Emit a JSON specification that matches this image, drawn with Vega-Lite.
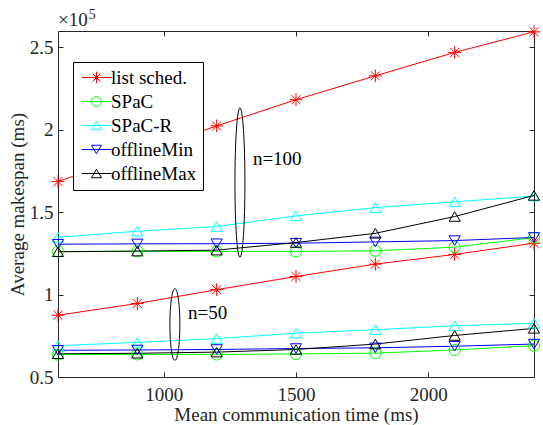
{
  "$schema": "https://vega.github.io/schema/vega-lite/v6.json",
  "width": 476,
  "height": 346,
  "autosize": {"type": "none"},
  "padding": {"left": 58, "top": 31, "right": 9, "bottom": 48},
  "background": "white",
  "config": {
    "font": "Liberation Serif",
    "view": {"stroke": "#262626", "strokeWidth": 1},
    "axis": {"grid": false, "domain": false, "labelFont": "Liberation Serif", "titleFont": "Liberation Serif", "labelColor": "#262626", "titleColor": "#262626", "tickColor": "#262626", "labelFontSize": 19, "titleFontSize": 19, "titleFontWeight": "normal"}
  },
  "datasets": {
    "series": [
      {"t": 600, "n": 100, "series": "list sched.", "ms": 168600},
      {"t": 900, "n": 100, "series": "list sched.", "ms": 185500},
      {"t": 1200, "n": 100, "series": "list sched.", "ms": 202400},
      {"t": 1500, "n": 100, "series": "list sched.", "ms": 218300},
      {"t": 1800, "n": 100, "series": "list sched.", "ms": 232800},
      {"t": 2100, "n": 100, "series": "list sched.", "ms": 247000},
      {"t": 2400, "n": 100, "series": "list sched.", "ms": 259500},
      {"t": 600, "n": 100, "series": "SPaC", "ms": 126200},
      {"t": 900, "n": 100, "series": "SPaC", "ms": 126300},
      {"t": 1200, "n": 100, "series": "SPaC", "ms": 126200},
      {"t": 1500, "n": 100, "series": "SPaC", "ms": 126200},
      {"t": 1800, "n": 100, "series": "SPaC", "ms": 126600},
      {"t": 2100, "n": 100, "series": "SPaC", "ms": 128800},
      {"t": 2400, "n": 100, "series": "SPaC", "ms": 134600},
      {"t": 600, "n": 100, "series": "SPaC-R", "ms": 134800},
      {"t": 900, "n": 100, "series": "SPaC-R", "ms": 138500},
      {"t": 1200, "n": 100, "series": "SPaC-R", "ms": 141300},
      {"t": 1500, "n": 100, "series": "SPaC-R", "ms": 147800},
      {"t": 1800, "n": 100, "series": "SPaC-R", "ms": 152800},
      {"t": 2100, "n": 100, "series": "SPaC-R", "ms": 156300},
      {"t": 2400, "n": 100, "series": "SPaC-R", "ms": 159800},
      {"t": 600, "n": 100, "series": "offlineMin", "ms": 130600},
      {"t": 900, "n": 100, "series": "offlineMin", "ms": 130800},
      {"t": 1200, "n": 100, "series": "offlineMin", "ms": 130900},
      {"t": 1500, "n": 100, "series": "offlineMin", "ms": 131200},
      {"t": 1800, "n": 100, "series": "offlineMin", "ms": 132000},
      {"t": 2100, "n": 100, "series": "offlineMin", "ms": 132800},
      {"t": 2400, "n": 100, "series": "offlineMin", "ms": 134700},
      {"t": 600, "n": 100, "series": "offlineMax", "ms": 126000},
      {"t": 900, "n": 100, "series": "offlineMax", "ms": 126400},
      {"t": 1200, "n": 100, "series": "offlineMax", "ms": 127000},
      {"t": 1500, "n": 100, "series": "offlineMax", "ms": 131600},
      {"t": 1800, "n": 100, "series": "offlineMax", "ms": 137200},
      {"t": 2100, "n": 100, "series": "offlineMax", "ms": 147400},
      {"t": 2400, "n": 100, "series": "offlineMax", "ms": 160200},
      {"t": 600, "n": 50, "series": "list sched.", "ms": 87500},
      {"t": 900, "n": 50, "series": "list sched.", "ms": 94600},
      {"t": 1200, "n": 50, "series": "list sched.", "ms": 103000},
      {"t": 1500, "n": 50, "series": "list sched.", "ms": 111000},
      {"t": 1800, "n": 50, "series": "list sched.", "ms": 118500},
      {"t": 2100, "n": 50, "series": "list sched.", "ms": 124400},
      {"t": 2400, "n": 50, "series": "list sched.", "ms": 131200},
      {"t": 600, "n": 50, "series": "SPaC", "ms": 63600},
      {"t": 900, "n": 50, "series": "SPaC", "ms": 63700},
      {"t": 1200, "n": 50, "series": "SPaC", "ms": 63700},
      {"t": 1500, "n": 50, "series": "SPaC", "ms": 64000},
      {"t": 1800, "n": 50, "series": "SPaC", "ms": 64500},
      {"t": 2100, "n": 50, "series": "SPaC", "ms": 66400},
      {"t": 2400, "n": 50, "series": "SPaC", "ms": 69000},
      {"t": 600, "n": 50, "series": "SPaC-R", "ms": 69000},
      {"t": 900, "n": 50, "series": "SPaC-R", "ms": 71000},
      {"t": 1200, "n": 50, "series": "SPaC-R", "ms": 73300},
      {"t": 1500, "n": 50, "series": "SPaC-R", "ms": 76600},
      {"t": 1800, "n": 50, "series": "SPaC-R", "ms": 78700},
      {"t": 2100, "n": 50, "series": "SPaC-R", "ms": 81100},
      {"t": 2400, "n": 50, "series": "SPaC-R", "ms": 82600},
      {"t": 600, "n": 50, "series": "offlineMin", "ms": 66200},
      {"t": 900, "n": 50, "series": "offlineMin", "ms": 66400},
      {"t": 1200, "n": 50, "series": "offlineMin", "ms": 66700},
      {"t": 1500, "n": 50, "series": "offlineMin", "ms": 67300},
      {"t": 1800, "n": 50, "series": "offlineMin", "ms": 67700},
      {"t": 2100, "n": 50, "series": "offlineMin", "ms": 68700},
      {"t": 2400, "n": 50, "series": "offlineMin", "ms": 70000},
      {"t": 600, "n": 50, "series": "offlineMax", "ms": 64100},
      {"t": 900, "n": 50, "series": "offlineMax", "ms": 64400},
      {"t": 1200, "n": 50, "series": "offlineMax", "ms": 65100},
      {"t": 1500, "n": 50, "series": "offlineMax", "ms": 66700},
      {"t": 1800, "n": 50, "series": "offlineMax", "ms": 70000},
      {"t": 2100, "n": 50, "series": "offlineMax", "ms": 75200},
      {"t": 2400, "n": 50, "series": "offlineMax", "ms": 79500}
    ],
    "ell100": [{"t": 1288, "ms": 168000}],
    "ell50": [{"t": 1042, "ms": 81900}],
    "labels": [
      {"t": 1337, "ms": 182500, "label": "n=100"},
      {"t": 1092, "ms": 88600, "label": "n=50"}
    ],
    "expBase": [{"t": 600, "ms": 266500, "label": "×10"}],
    "expPow": [{"t": 716, "ms": 269700, "label": "5"}]
  },
  "layer": [
    {
      "data": {"name": "series"},
      "mark": {"type": "line", "strokeWidth": 1},
      "encoding": {
        "x": {"field": "t", "type": "quantitative", "scale": {"domain": [600, 2400], "nice": false, "zero": false},
              "axis": {"orient": "bottom", "values": [1000, 1500, 2000], "format": "d", "tickSize": -5, "labelPadding": 13, "title": "Mean communication time (ms)", "titlePadding": 1}},
        "y": {"field": "ms", "type": "quantitative", "scale": {"domain": [50000, 260000], "nice": false, "zero": false},
              "axis": {"orient": "left", "values": [50000, 100000, 150000, 200000, 250000], "labelExpr": "format(datum.value/100000, '~g')", "tickSize": -5, "labelPadding": 10, "title": "Average makespan (ms)", "titlePadding": 2}},
        "color": {"field": "series", "type": "nominal",
                  "scale": {"domain": ["list sched.", "SPaC", "SPaC-R", "offlineMin", "offlineMax"], "range": ["#ff0000", "#00ff00", "#00ffff", "#0000ff", "#000000"]},
                  "legend": {"title": null, "orient": "none", "legendX": 15, "legendY": 31, "padding": 6, "fillColor": "white", "strokeColor": "#000000", "cornerRadius": 0,
                             "labelFont": "Liberation Serif", "labelFontSize": 19, "labelColor": "#000000", "symbolSize": 100, "symbolStrokeWidth": 1, "symbolOpacity": 1, "symbolOffset": 8, "labelOffset": 5, "rowPadding": 4}},
        "detail": {"field": "n", "type": "nominal"}
      }
    },
    {
      "data": {"name": "series"},
      "transform": [{"filter": "datum.series === 'list sched.'"}],
      "mark": {"type": "point", "filled": false, "strokeWidth": 1, "size": 125, "opacity": 1, "color": "#ff0000",
               "shape": "M0,-1.15L0,1.15M-1.15,0L1.15,0M-0.8,-0.8L0.8,0.8M-0.8,0.8L0.8,-0.8"},
      "encoding": {"x": {"field": "t", "type": "quantitative", "axis": null}, "y": {"field": "ms", "type": "quantitative", "axis": null}}
    },
    {
      "data": {"name": "series"},
      "transform": [{"filter": "datum.series === 'SPaC'"}],
      "mark": {"type": "point", "filled": false, "strokeWidth": 1, "size": 125, "opacity": 1, "color": "#00ff00",
               "shape": "M1,0C1,0.552,0.552,1,0,1C-0.552,1,-1,0.552,-1,0C-1,-0.552,-0.552,-1,0,-1C0.552,-1,1,-0.552,1,0Z"},
      "encoding": {"x": {"field": "t", "type": "quantitative", "axis": null}, "y": {"field": "ms", "type": "quantitative", "axis": null}}
    },
    {
      "data": {"name": "series"},
      "transform": [{"filter": "datum.series === 'SPaC-R'"}],
      "mark": {"type": "point", "filled": false, "strokeWidth": 1, "size": 125, "opacity": 1, "color": "#00ffff",
               "shape": "M0,-0.85L1,0.85L-1,0.85Z"},
      "encoding": {"x": {"field": "t", "type": "quantitative", "axis": null}, "y": {"field": "ms", "type": "quantitative", "axis": null}}
    },
    {
      "data": {"name": "series"},
      "transform": [{"filter": "datum.series === 'offlineMin'"}],
      "mark": {"type": "point", "filled": false, "strokeWidth": 1, "size": 125, "opacity": 1, "color": "#0000ff",
               "shape": "M0,0.85L1,-0.85L-1,-0.85Z"},
      "encoding": {"x": {"field": "t", "type": "quantitative", "axis": null}, "y": {"field": "ms", "type": "quantitative", "axis": null}}
    },
    {
      "data": {"name": "series"},
      "transform": [{"filter": "datum.series === 'offlineMax'"}],
      "mark": {"type": "point", "filled": false, "strokeWidth": 1, "size": 125, "opacity": 1, "color": "#000000",
               "shape": "M0,-0.85L1,0.85L-1,0.85Z"},
      "encoding": {"x": {"field": "t", "type": "quantitative", "axis": null}, "y": {"field": "ms", "type": "quantitative", "axis": null}}
    },
    {
      "data": {"name": "series"},
      "mark": {"type": "point", "filled": false, "strokeWidth": 1, "size": 100, "opacity": 0},
      "encoding": {
        "x": {"field": "t", "type": "quantitative", "axis": null},
        "y": {"field": "ms", "type": "quantitative", "axis": null},
        "color": {"field": "series", "type": "nominal",
                  "scale": {"domain": ["list sched.", "SPaC", "SPaC-R", "offlineMin", "offlineMax"], "range": ["#ff0000", "#00ff00", "#00ffff", "#0000ff", "#000000"]},
                  "legend": {"title": null, "orient": "none", "legendX": 15, "legendY": 31, "padding": 6, "fillColor": "white", "strokeColor": "#000000", "cornerRadius": 0,
                             "labelFont": "Liberation Serif", "labelFontSize": 19, "labelColor": "#000000", "symbolSize": 100, "symbolStrokeWidth": 1, "symbolOpacity": 1, "symbolOffset": 8, "labelOffset": 5, "rowPadding": 4}},
        "shape": {"field": "series", "type": "nominal",
                  "legend": {"title": null, "orient": "none", "legendX": 15, "legendY": 31, "padding": 6, "fillColor": "white", "strokeColor": "#000000", "cornerRadius": 0,
                             "labelFont": "Liberation Serif", "labelFontSize": 19, "labelColor": "#000000", "symbolSize": 100, "symbolStrokeWidth": 1, "symbolOpacity": 1, "symbolOffset": 8, "labelOffset": 5, "rowPadding": 4},
                  "scale": {"domain": ["list sched.", "SPaC", "SPaC-R", "offlineMin", "offlineMax"],
                            "range": ["M0,-1.15L0,1.15M-1.15,0L1.15,0M-0.8,-0.8L0.8,0.8M-0.8,0.8L0.8,-0.8M-3,0L3,0",
                                      "M1,0C1,0.552,0.552,1,0,1C-0.552,1,-1,0.552,-1,0C-1,-0.552,-0.552,-1,0,-1C0.552,-1,1,-0.552,1,0ZM-3,0L3,0",
                                      "M0,-0.85L1,0.85L-1,0.85ZM-3,0L3,0",
                                      "M0,0.85L1,-0.85L-1,-0.85ZM-3,0L3,0",
                                      "M0,-0.85L1,0.85L-1,0.85ZM-3,0L3,0"]}}
      }
    },
    {
      "data": {"name": "ell100"},
      "mark": {"type": "point", "filled": false, "color": "#000000", "strokeWidth": 1, "opacity": 1, "size": 22350,
               "shape": "M0,-1C0.0368,-1,0.0667,-0.5523,0.0667,0C0.0667,0.5523,0.0368,1,0,1C-0.0368,1,-0.0667,0.5523,-0.0667,0C-0.0667,-0.5523,-0.0368,-1,0,-1Z"},
      "encoding": {
        "x": {"field": "t", "type": "quantitative", "axis": {"orient": "top", "values": [1000, 1500, 2000], "labels": false, "tickSize": -5, "title": null}},
        "y": {"field": "ms", "type": "quantitative", "axis": {"orient": "right", "values": [50000, 100000, 150000, 200000, 250000], "labels": false, "tickSize": -5, "title": null}}
      }
    },
    {
      "data": {"name": "ell50"},
      "mark": {"type": "point", "filled": false, "color": "#000000", "strokeWidth": 1, "opacity": 1, "size": 5140,
               "shape": "M0,-1C0.0767,-1,0.139,-0.5523,0.139,0C0.139,0.5523,0.0767,1,0,1C-0.0767,1,-0.139,0.5523,-0.139,0C-0.139,-0.5523,-0.0767,-1,0,-1Z"},
      "encoding": {
        "x": {"field": "t", "type": "quantitative", "axis": null},
        "y": {"field": "ms", "type": "quantitative", "axis": null}
      }
    },
    {
      "data": {"name": "labels"},
      "mark": {"type": "text", "align": "left", "baseline": "middle", "font": "Liberation Serif", "fontSize": 19, "color": "#000000"},
      "encoding": {
        "x": {"field": "t", "type": "quantitative", "axis": null},
        "y": {"field": "ms", "type": "quantitative", "axis": null},
        "text": {"field": "label", "type": "nominal"}
      }
    },
    {
      "data": {"name": "expBase"},
      "mark": {"type": "text", "align": "left", "baseline": "middle", "font": "Liberation Serif", "fontSize": 19, "color": "#262626"},
      "encoding": {
        "x": {"field": "t", "type": "quantitative", "axis": null},
        "y": {"field": "ms", "type": "quantitative", "axis": null},
        "text": {"field": "label", "type": "nominal"}
      }
    },
    {
      "data": {"name": "expPow"},
      "mark": {"type": "text", "align": "left", "baseline": "middle", "font": "Liberation Serif", "fontSize": 14, "color": "#262626"},
      "encoding": {
        "x": {"field": "t", "type": "quantitative", "axis": null},
        "y": {"field": "ms", "type": "quantitative", "axis": null},
        "text": {"field": "label", "type": "nominal"}
      }
    }
  ],
  "resolve": {"axis": {"x": "independent", "y": "independent"}}
}
